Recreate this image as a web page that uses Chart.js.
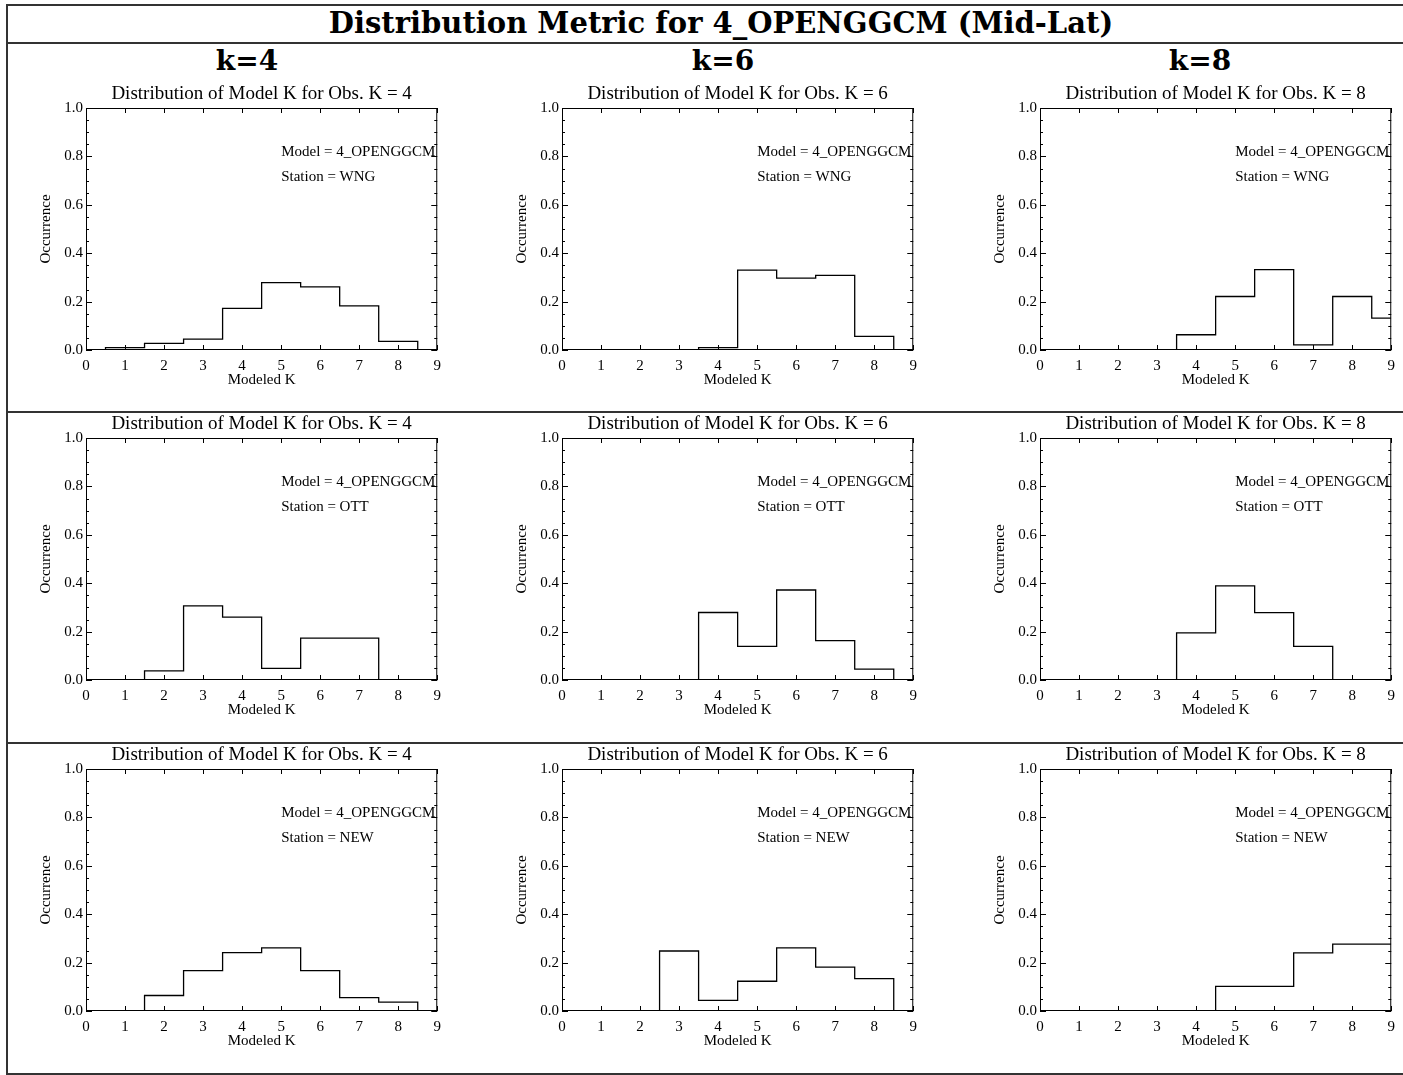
<!DOCTYPE html>
<html>
<head>
<meta charset="utf-8">
<script src="https://cdn.jsdelivr.net/npm/chart.js@4/dist/chart.umd.min.js"></script>
<style>
  body { margin: 0; background: #fff; }
  #page { position: relative; width: 1403px; height: 1075px; overflow: hidden; }
  .rule { position: absolute; background: #333; }
  .txt { position: absolute; text-align: center; color: #000; white-space: nowrap; }
  canvas { position: absolute; }
</style>
</head>
<body>
<div id="page">
  <div class="rule" style="left:6px;top:4px;width:1400px;height:2px"></div>
  <div class="rule" style="left:6px;top:42px;width:1400px;height:2px"></div>
  <div class="rule" style="left:6px;top:411px;width:1400px;height:2px"></div>
  <div class="rule" style="left:6px;top:742px;width:1400px;height:2px"></div>
  <div class="rule" style="left:6px;top:1073px;width:1400px;height:2px"></div>
  <div class="rule" style="left:6px;top:4px;width:2px;height:1071px"></div>
  <div id="title" class="txt" style="left:321px;top:6px;width:800px;line-height:36px;font:bold 29px 'DejaVu Serif'"></div>
</div>
<script>
// shared text
const mainTitle = "Distribution Metric for 4_OPENGGCM (Mid-Lat)";
const modelName = "4_OPENGGCM";
const stations = ["WNG", "OTT", "NEW"];
const obsK = [4, 6, 8];

// x positions of the histogram bins (Modeled K)
const kBins = [0, 1, 2, 3, 4, 5, 6, 7, 8, 9];
const xTicks = [0, 1, 2, 3, 4, 5, 6, 7, 8, 9];
const yTicks = [0.0, 0.2, 0.4, 0.6, 0.8, 1.0];

// occurrence per bin
const wngK4 = [0, 0.010, 0.027, 0.045, 0.172, 0.278, 0.261, 0.182, 0.036, 0];
const wngK6 = [0, 0, 0, 0, 0.010, 0.330, 0.297, 0.308, 0.056, 0];
const wngK8 = [0, 0, 0, 0, 0.063, 0.221, 0.332, 0.021, 0.221, 0.132];
const ottK4 = [0, 0, 0.038, 0.306, 0.260, 0.048, 0.173, 0.173, 0, 0];
const ottK6 = [0, 0, 0, 0, 0.279, 0.139, 0.372, 0.163, 0.045, 0];
const ottK8 = [0, 0, 0, 0, 0.195, 0.389, 0.278, 0.139, 0, 0];
const newK4 = [0, 0, 0.064, 0.167, 0.241, 0.261, 0.167, 0.055, 0.037, 0];
const newK6 = [0, 0, 0, 0.248, 0.044, 0.123, 0.261, 0.181, 0.134, 0];
const newK8 = [0, 0, 0, 0, 0, 0.102, 0.102, 0.240, 0.276, 0.276];

const grid = [
  [wngK4, wngK6, wngK8],
  [ottK4, ottK6, ottK8],
  [newK4, newK6, newK8]
];

// plot box placement on the page
const colLeft = [86, 562, 1040];
const rowTop = [108, 438, 769];
const headerX = [247, 723, 1200];
const plotW = 352, plotH = 242;
const padL = 60, padT = 30, padR = 10, padB = 50;

const page = document.getElementById("page");
document.getElementById("title").textContent = mainTitle;

headerX.forEach((cx, i) => {
  const d = document.createElement("div");
  d.className = "txt";
  d.style.cssText = `left:${cx - 60}px;top:44px;width:120px;line-height:34px;font:bold 28px 'DejaVu Serif'`;
  d.textContent = "k=" + obsK[i];
  page.appendChild(d);
});

const serif = "'Liberation Serif', 'Times New Roman', serif";

// IDL style box: full frame, inward ticks, labels inside
const idlFrame = {
  id: "idlFrame",
  afterDatasetsDraw(chart, args, opts) {
    const { ctx, chartArea: a, scales: { x, y } } = chart;
    ctx.save();
    ctx.strokeStyle = "#000";
    ctx.lineWidth = 1;
    ctx.strokeRect(a.left + 0.5, a.top + 0.5, a.right - a.left - 1, a.bottom - a.top - 1);
    ctx.beginPath();
    xTicks.forEach(v => {
      const px = Math.round(x.getPixelForValue(v)) + 0.5;
      ctx.moveTo(px, a.bottom); ctx.lineTo(px, a.bottom - 5);
      ctx.moveTo(px, a.top); ctx.lineTo(px, a.top + 5);
    });
    for (let i = 0; i <= 20; i++) {
      const py = Math.round(y.getPixelForValue(i * 0.05)) + 0.5;
      const len = i % 4 === 0 ? 6 : 3;
      ctx.moveTo(a.left, py); ctx.lineTo(a.left + len, py);
      ctx.moveTo(a.right, py); ctx.lineTo(a.right - len, py);
    }
    ctx.stroke();

    ctx.fillStyle = "#000";
    ctx.font = "19px " + serif;
    ctx.textAlign = "center";
    ctx.textBaseline = "alphabetic";
    ctx.fillText("Distribution of Model K for Obs. K = " + opts.obs, (a.left + a.right) / 2, a.top - 9);

    ctx.font = "15px " + serif;
    ctx.textAlign = "left";
    ctx.fillText("Model = " + modelName, x.getPixelForValue(5), y.getPixelForValue(0.8));
    ctx.fillText("Station = " + opts.station, x.getPixelForValue(5), y.getPixelForValue(0.7));
    ctx.restore();
  }
};

grid.forEach((row, r) => {
  row.forEach((vals, c) => {
    const cv = document.createElement("canvas");
    cv.width = padL + plotW + padR;
    cv.height = padT + plotH + padB;
    cv.style.left = (colLeft[c] - padL) + "px";
    cv.style.top = (rowTop[r] - padT) + "px";
    page.appendChild(cv);

    new Chart(cv.getContext("2d"), {
      type: "line",
      data: {
        datasets: [{
          data: kBins.map((k, i) => ({ x: k, y: vals[i] })),
          stepped: "middle",
          borderColor: "#000",
          borderWidth: 1.3,
          pointRadius: 0,
          fill: false
        }]
      },
      plugins: [idlFrame],
      options: {
        responsive: false,
        animation: false,
        devicePixelRatio: 1,
        layout: { padding: { left: 0, top: padT, right: padR, bottom: 0 } },
        plugins: {
          legend: { display: false },
          tooltip: { enabled: false },
          idlFrame: { obs: obsK[c], station: stations[r] }
        },
        scales: {
          x: {
            type: "linear",
            min: 0, max: 9,
            afterFit: s => { s.height = padB; },
            afterBuildTicks: s => { s.ticks = xTicks.map(v => ({ value: v })); },
            grid: { display: false, drawTicks: false },
            border: { display: false },
            ticks: { color: "#000", font: { family: serif, size: 15 }, padding: 7, maxRotation: 0 },
            title: { display: true, text: "Modeled K", color: "#000", font: { family: serif, size: 15 }, padding: { top: 0, bottom: 11 } }
          },
          y: {
            type: "linear",
            min: 0, max: 1,
            afterFit: s => { s.width = padL; },
            afterBuildTicks: s => { s.ticks = yTicks.map(v => ({ value: v })); },
            grid: { display: false, drawTicks: false },
            border: { display: false },
            ticks: { color: "#000", font: { family: serif, size: 15 }, padding: 3, callback: v => v.toFixed(1) },
            title: { display: true, text: "Occurrence", color: "#000", font: { family: serif, size: 15 }, padding: { top: 11, bottom: 0 } }
          }
        }
      }
    });
  });
});
</script>
</body>
</html>
